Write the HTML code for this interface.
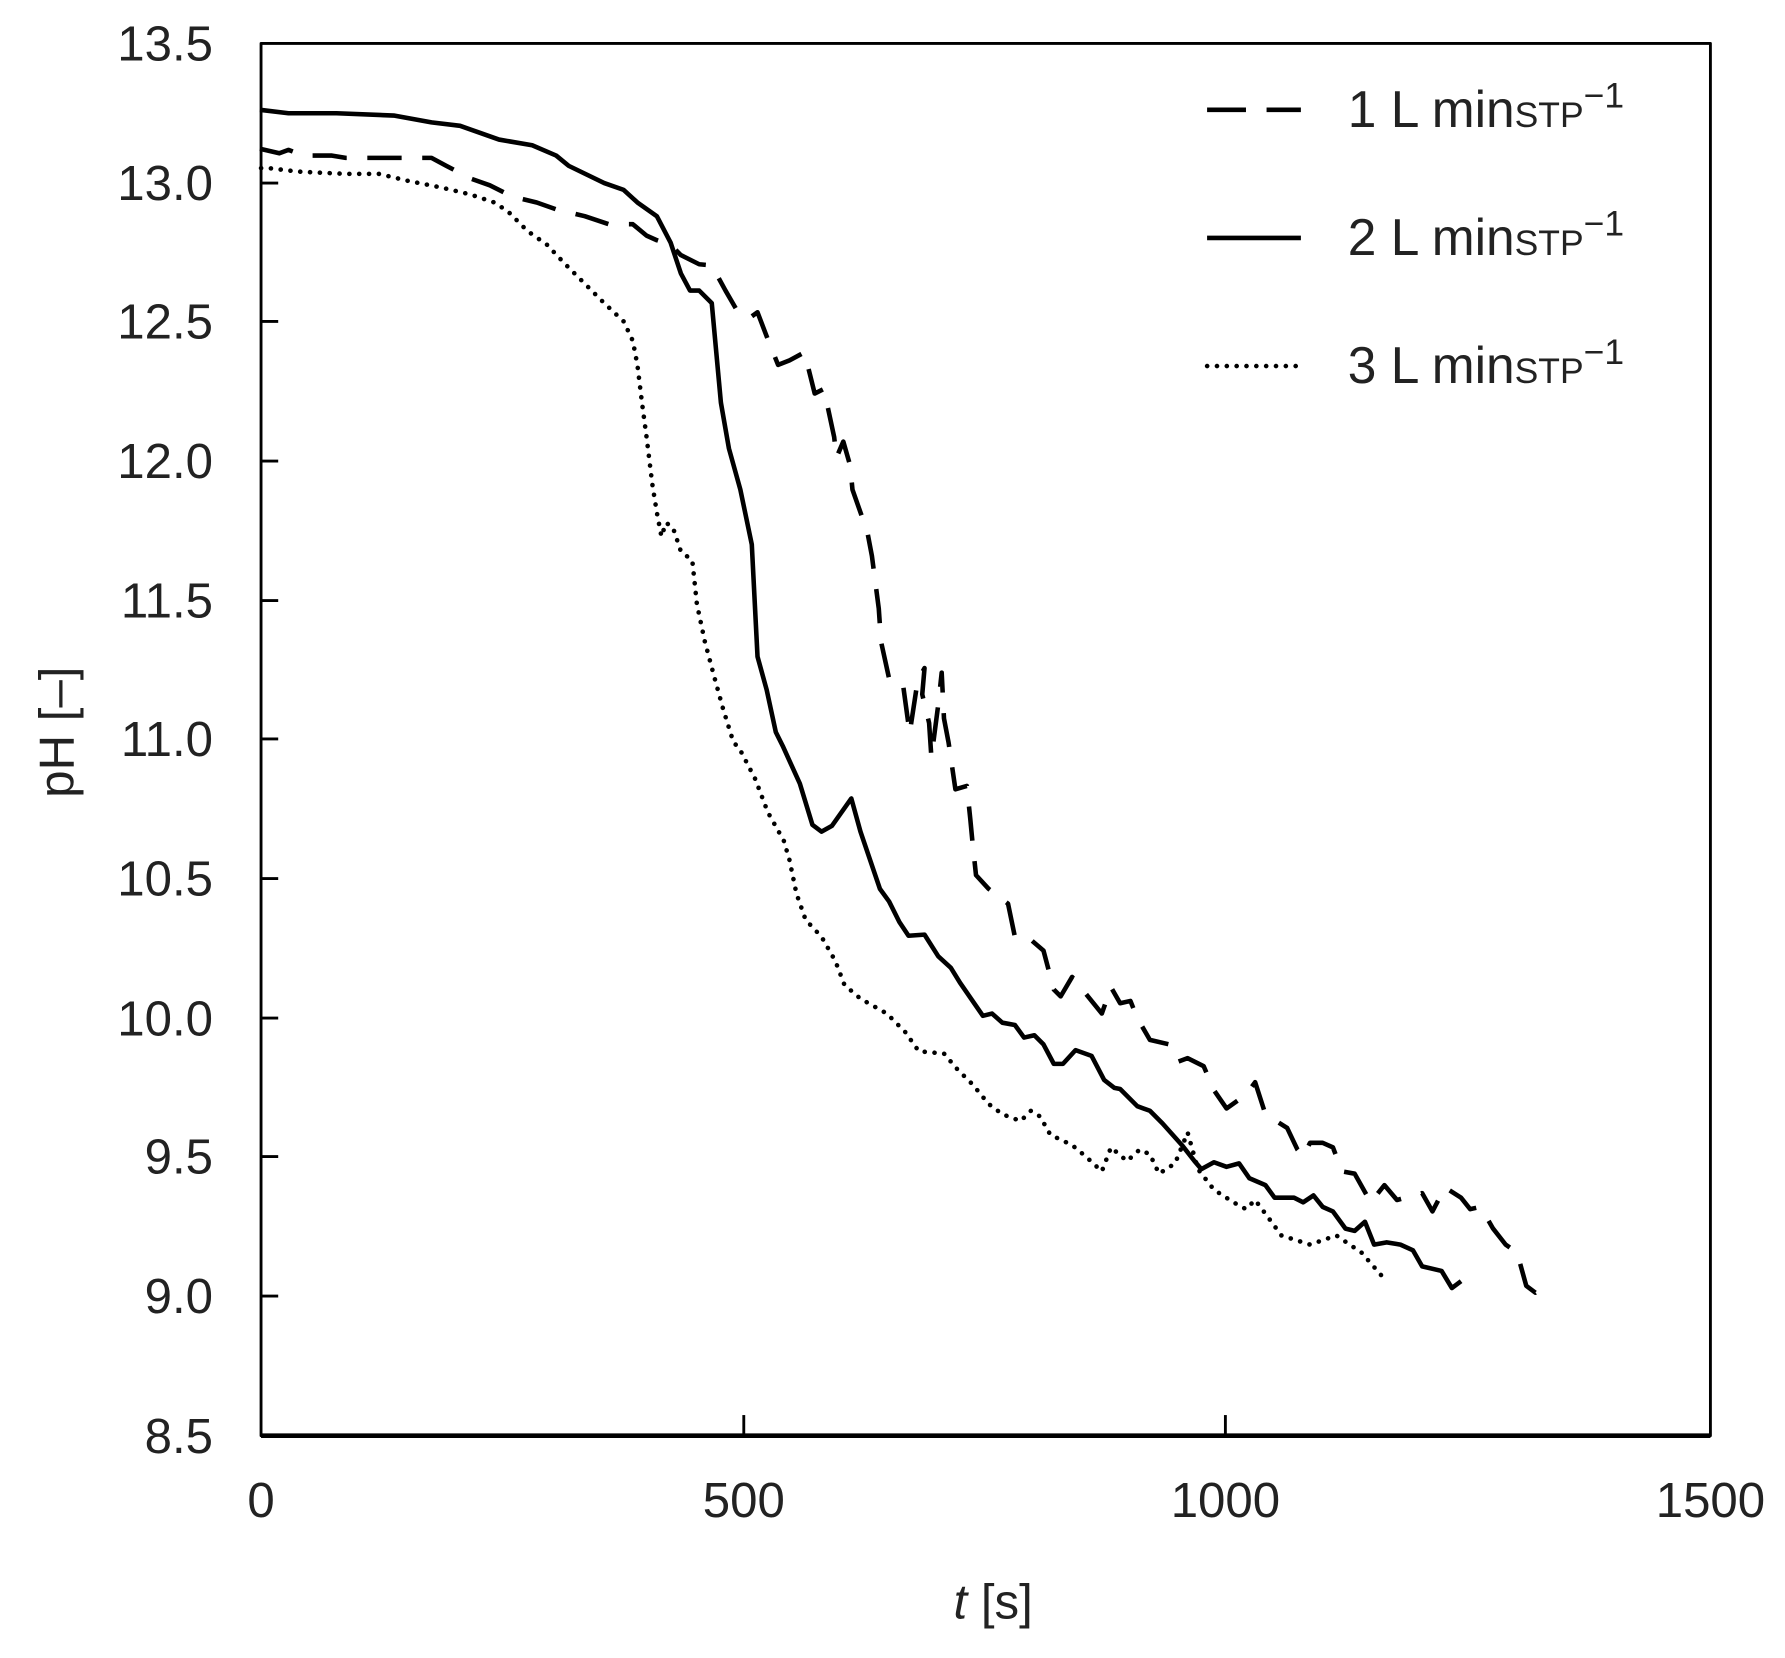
<!DOCTYPE html>
<html><head><style>html,body{margin:0;padding:0;background:#fff}</style></head>
<body>
<svg width="1785" height="1653" viewBox="0 0 1560 1445" xmlns="http://www.w3.org/2000/svg" font-family="Liberation Sans, Arial, sans-serif">
<g fill="none" stroke="#000" stroke-linejoin="round">
<rect x="228" y="38" width="1267" height="1217" stroke-width="2.5"/>
<line x1="228" y1="1255" x2="1495" y2="1255" stroke-width="4"/>
<g stroke-width="2.5">
<line x1="228" y1="160" x2="243" y2="160"/><line x1="228" y1="281" x2="243" y2="281"/>
<line x1="228" y1="403" x2="243" y2="403"/><line x1="228" y1="525" x2="243" y2="525"/>
<line x1="228" y1="646" x2="243" y2="646"/><line x1="228" y1="768" x2="243" y2="768"/>
<line x1="228" y1="890" x2="243" y2="890"/><line x1="228" y1="1011" x2="243" y2="1011"/>
<line x1="228" y1="1133" x2="243" y2="1133"/>
<line x1="650" y1="1255" x2="650" y2="1237"/><line x1="1071" y1="1255" x2="1071" y2="1237"/>
</g>
<polyline stroke-width="4" stroke-dasharray="30,18" points="227,130 244,134 252,131 265,136 290,136 302,138 377,138 390,145 411,156 428,162 448,172 469,177 486,183 511,189 532,196 553,196 565,206 574,210 586,214 595,223 611,231 622,232 634,254 645,273 655,278 662,273 670,294 680,319 690,315 703,308 712,344 720,340 729,382 731,400 737,386 743,407 745,428 758,465 762,486 768,532 770,561 777,593 789,597 795,641 802,595 808,584 806,607 812,632 814,662 820,616 823,588 825,628 829,649 835,690 845,687 848,716 850,737 853,765 864,777 881,790 887,819 898,819 912,831 921,865 927,871 937,854 963,886 971,863 979,877 988,875 994,890 1005,909 1022,913 1030,928 1038,925 1052,932 1061,953 1072,969 1089,957 1097,946 1106,974 1125,986 1134,1005 1139,1011 1145,999 1156,999 1165,1003 1173,1024 1184,1026 1198,1051 1210,1036 1221,1049 1243,1043 1252,1059 1263,1038 1277,1047 1285,1057 1294,1055 1305,1074 1316,1088 1326,1095 1334,1124 1342,1130 1350,1124"/>
<polyline stroke-width="4" points="227,96 252,99 294,99 344,101 377,107 402,110 419,116 436,122 465,127 486,136 497,145 528,160 545,166 557,177 574,189 586,212 595,239 603,254 611,254 622,265 630,352 637,392 647,428 657,476 662,574 670,603 678,640 684,652 699,685 710,721 718,727 727,722 744,698 752,727 769,777 777,788 786,806 794,818 808,817 820,836 831,846 839,859 859,888 867,886 876,894 887,896 895,907 904,905 912,913 921,930 929,930 940,918 954,923 965,944 974,951 979,952 994,967 1005,971 1016,982 1033,1001 1044,1015 1050,1022 1061,1016 1072,1020 1083,1017 1092,1030 1106,1036 1114,1047 1131,1047 1139,1051 1148,1045 1156,1055 1165,1059 1176,1074 1184,1076 1193,1068 1201,1088 1212,1086 1224,1088 1235,1093 1243,1107 1260,1111 1269,1126 1277,1120"/>
<polyline stroke-width="4" stroke-dasharray="0.1,8.5" stroke-linecap="round" points="228,147 235,147 260,150 302,152 331,152 356,158 386,164 411,170 432,177 444,185 461,202 478,214 494,231 511,248 528,265 545,281 553,298 557,319 561,352 565,382 570,423 574,448 578,469 582,457 588,461 595,482 605,490 609,528 616,561 624,591 632,620 641,649 646,654 660,681 671,710 685,735 690,752 696,781 704,804 718,819 730,840 738,861 752,873 775,886 791,902 803,919 825,921 836,934 850,948 864,965 876,974 892,980 901,971 909,976 918,992 937,1001 949,1011 963,1024 971,1003 985,1015 996,1005 1005,1009 1013,1026 1027,1017 1038,990 1047,1022 1061,1040 1078,1051 1089,1057 1097,1049 1106,1061 1120,1080 1145,1088 1168,1080 1190,1095 1210,1118"/>
<line x1="1055" y1="96" x2="1137" y2="96" stroke-width="4" stroke-dasharray="34,18"/>
<line x1="1055" y1="208" x2="1137" y2="208" stroke-width="4"/>
<line x1="1055" y1="320" x2="1133" y2="320" stroke-width="4" stroke-dasharray="0.1,8.5" stroke-linecap="round"/>
</g>
<g font-size="43" fill="#222" text-anchor="end">
<text x="186" y="53">13.5</text><text x="186" y="175">13.0</text><text x="186" y="296">12.5</text>
<text x="186" y="418">12.0</text><text x="186" y="540">11.5</text><text x="186" y="661">11.0</text>
<text x="186" y="783">10.5</text><text x="186" y="905">10.0</text><text x="186" y="1026">9.5</text>
<text x="186" y="1148">9.0</text><text x="186" y="1270">8.5</text>
</g>
<g font-size="43" fill="#222" text-anchor="middle">
<text x="228" y="1326">0</text><text x="650" y="1326">500</text><text x="1071" y="1326">1000</text><text x="1495" y="1326">1500</text>
<text x="868" y="1415"><tspan font-style="italic">t</tspan> [s]</text>
<text transform="translate(64,640) rotate(-90)">pH [–]</text>
</g>
<g font-size="45" fill="#222">
<text x="1178" y="111">1 L min<tspan font-size="31">STP</tspan><tspan font-size="31" dy="-17">−1</tspan></text>
<text x="1178" y="223">2 L min<tspan font-size="31">STP</tspan><tspan font-size="31" dy="-17">−1</tspan></text>
<text x="1178" y="335">3 L min<tspan font-size="31">STP</tspan><tspan font-size="31" dy="-17">−1</tspan></text>
</g>
</svg>
</body></html>
